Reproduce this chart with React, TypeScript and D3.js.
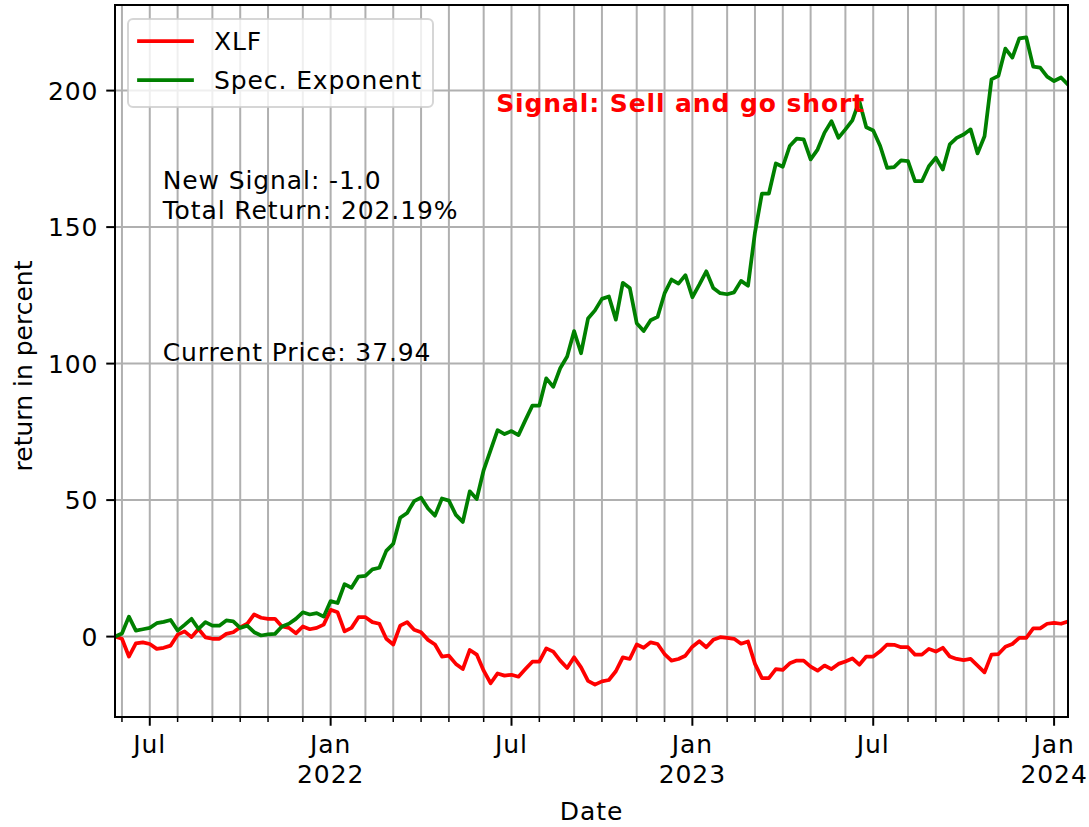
import React, { useEffect, useRef } from "react";
import * as d3 from "d3";

// weekly closes (weeks ending Monday), cumulative return in percent
const xlf = [
  0, -0.8, -7.3, -2.5, -2.1, -2.7, -4.5, -4.1, -3.3, 0.7,
  1.9, -0.2, 2.8, -0.3, -0.8, -0.8, 1.0, 1.6, 3.4, 4.7,
  8.1, 6.9, 6.5, 6.5, 3.7, 3.2, 1.2, 3.7, 2.7, 3.2,
  4.4, 9.8, 8.9, 1.9, 3.2, 7.1, 7.1, 5.3, 4.7, -0.8,
  -2.9, 4.0, 5.3, 2.5, 1.6, -1.2, -2.9, -7.3, -7.0, -10.0,
  -11.9, -4.9, -6.6, -12.5, -17.1, -13.5, -14.3, -14.0, -14.7, -11.9,
  -9.2, -9.2, -4.3, -5.5, -8.8, -11.5, -7.6, -11.3, -16.2, -17.6,
  -16.4, -15.9, -12.7, -7.6, -8.2, -2.9, -4.1, -2.1, -2.7, -6.4,
  -8.8, -8.2, -7.0, -3.7, -1.7, -3.9, -1.2, -0.2, -0.5, -0.8,
  -2.6, -1.8, -10.0, -15.2, -15.2, -11.9, -12.2, -9.8, -8.8, -8.8,
  -11.0, -12.5, -10.6, -11.9, -10.0, -9.1, -8.0, -10.3, -7.3, -7.3,
  -5.4, -2.9, -3.0, -3.9, -3.9, -6.6, -6.6, -4.5, -5.5, -4.1,
  -7.3, -8.2, -8.6, -8.2, -10.6, -13.1, -6.6, -6.4, -3.7, -2.7,
  -0.5, -0.5, 3.0, 3.0, 4.7, 5.0, 4.7, 5.5,
];

const specExponent = [
  0, 1.1, 7.3, 2.2, 2.7, 3.2, 4.9, 5.4, 6.1, 2.2,
  4.3, 6.5, 2.8, 5.3, 4.0, 4.0, 5.9, 5.6, 3.2, 4.0,
  1.6, 0.4, 0.8, 1.0, 3.7, 4.7, 6.5, 8.9, 8.1, 8.6,
  7.3, 13.0, 12.3, 19.2, 17.9, 22.0, 22.2, 24.6, 25.2, 31.4,
  34.0, 43.5, 45.3, 49.6, 50.9, 46.9, 44.3, 50.6, 49.8, 44.6,
  42.0, 53.2, 50.4, 61.0, 68.3, 75.6, 74.2, 75.3, 73.8, 79.3,
  84.6, 84.6, 94.6, 91.5, 98.3, 102.6, 111.9, 103.8, 116.5, 119.5,
  123.7, 124.6, 116.1, 129.6, 127.7, 114.8, 111.9, 115.9, 117.1, 125.7,
  130.8, 129.3, 132.4, 124.3, 128.9, 133.8, 127.7, 125.8, 125.4, 126.1,
  130.3, 128.5, 148.0, 162.3, 162.3, 173.3, 172.1, 179.7, 182.4, 182.1,
  174.8, 178.4, 184.6, 188.8, 182.7, 185.8, 189.1, 196.2, 186.6, 185.4,
  179.7, 171.7, 172.0, 174.4, 174.2, 166.8, 166.8, 172.3, 175.4, 171.1,
  180.3, 182.7, 183.9, 185.8, 177.0, 183.3, 204.1, 205.4, 215.4, 212.1,
  219.1, 219.5, 208.8, 208.4, 205.1, 203.5, 204.8, 202.19,
];

const seriesNames = ["XLF", "Spec. Exponent"];
const seriesColors = ["#ff0000", "#008000"];
const yTicks = [0, 50, 100, 150, 200];
const firstWeek = new Date(2021, 4, 31);
const signalText = "Signal: Sell and go short";
const infoLines = ["New Signal: -1.0", "Total Return: 202.19%"];
const priceText = "Current Price: 37.94";

const App = () => {
  const svgRef = useRef<SVGSVGElement | null>(null);

  useEffect(() => {
    const width = 1089;
    const height = 827;
    const m = { left: 115, right: 1068, top: 5, bottom: 717 };
    const font = "DejaVu Sans, Verdana, sans-serif";
    const fs = 25;
    const ls = "0.9px"; // hinted text in the original runs a bit wider

    const svg = d3.select(svgRef.current);
    svg.selectAll("*").remove();
    svg.attr("width", width).attr("height", height).style("font-family", font);

    const n = xlf.length;
    const x = d3.scaleLinear().domain([0, n - 1]).range([m.left, m.right]);

    // matplotlib style 5% margins on y
    const all = [...xlf, ...specExponent];
    const lo = d3.min(all) as number;
    const hi = d3.max(all) as number;
    const pad = (hi - lo) * 0.05;
    const y = d3.scaleLinear().domain([lo - pad, hi + pad]).range([m.bottom, m.top]);

    // axes fraction scales for the text boxes
    const ax = d3.scaleLinear().domain([0, 1]).range([m.left, m.right]);
    const ay = d3.scaleLinear().domain([0, 1]).range([m.bottom, m.top]);

    // month ticks snap to the weekly period containing the 1st
    const lastWeek = d3.timeDay.offset(firstWeek, (n - 1) * 7);
    const months = d3.timeMonth
      .range(firstWeek, d3.timeDay.offset(lastWeek, 1))
      .map((d) => {
        const wk = d3.timeMonday.ceil(d);
        return { date: d, idx: d3.timeMonday.count(firstWeek, wk) };
      })
      .filter((d) => d.idx >= 0 && d.idx <= n - 1);

    // grid
    const grid = svg.append("g").attr("stroke", "#b0b0b0").attr("stroke-width", 2);
    grid.selectAll("line.v")
      .data(months)
      .join("line")
      .attr("class", "v")
      .attr("x1", (d) => x(d.idx))
      .attr("x2", (d) => x(d.idx))
      .attr("y1", m.top)
      .attr("y2", m.bottom);
    grid.selectAll("line.h")
      .data(yTicks)
      .join("line")
      .attr("class", "h")
      .attr("x1", m.left)
      .attr("x2", m.right)
      .attr("y1", (d) => y(d))
      .attr("y2", (d) => y(d));

    // lines
    const line = d3.line<number>().x((_, i) => x(i)).y((d) => y(d));
    const clip = svg.append("clipPath").attr("id", "plot-clip");
    clip.append("rect")
      .attr("x", m.left)
      .attr("y", m.top)
      .attr("width", m.right - m.left)
      .attr("height", m.bottom - m.top);
    [xlf, specExponent].forEach((s, k) => {
      svg.append("path")
        .datum(s)
        .attr("clip-path", "url(#plot-clip)")
        .attr("fill", "none")
        .attr("stroke", seriesColors[k])
        .attr("stroke-width", 3.75)
        .attr("stroke-linejoin", "round")
        .attr("stroke-linecap", "square")
        .attr("d", line);
    });

    // spines
    svg.append("rect")
      .attr("x", m.left)
      .attr("y", m.top)
      .attr("width", m.right - m.left)
      .attr("height", m.bottom - m.top)
      .attr("fill", "none")
      .attr("stroke", "#000")
      .attr("stroke-width", 2);

    // y ticks
    const yAxis = svg.append("g");
    yTicks.forEach((t) => {
      yAxis.append("line")
        .attr("x1", m.left - 8.75)
        .attr("x2", m.left)
        .attr("y1", y(t))
        .attr("y2", y(t))
        .attr("stroke", "#000")
        .attr("stroke-width", 2);
      yAxis.append("text")
        .attr("x", m.left - 16.6)
        .attr("y", y(t) + 9)
        .attr("text-anchor", "end")
        .attr("font-size", fs)
        .attr("letter-spacing", ls)
        .text(t);
    });

    // x ticks
    const xAxis = svg.append("g");
    months.forEach((d) => {
      const mo = d.date.getMonth();
      const major = mo === 0 || mo === 6;
      xAxis.append("line")
        .attr("x1", x(d.idx))
        .attr("x2", x(d.idx))
        .attr("y1", m.bottom)
        .attr("y2", m.bottom + (major ? 8.75 : 5))
        .attr("stroke", "#000")
        .attr("stroke-width", major ? 2 : 1.5);
      if (major) {
        const t = xAxis.append("text")
          .attr("text-anchor", "middle")
          .attr("font-size", fs)
          .attr("letter-spacing", ls)
          .attr("x", x(d.idx))
          .attr("y", 753);
        t.append("tspan").attr("x", x(d.idx)).text(mo === 0 ? "Jan" : "Jul");
        if (mo === 0) {
          t.append("tspan").attr("x", x(d.idx)).attr("dy", 30).text(d.date.getFullYear());
        }
      }
    });

    // axis labels
    svg.append("text")
      .attr("x", (m.left + m.right) / 2)
      .attr("y", 820)
      .attr("text-anchor", "middle")
      .attr("font-size", fs)
      .attr("letter-spacing", ls)
      .text("Date");
    svg.append("text")
      .attr("transform", `translate(32,${(m.top + m.bottom) / 2 + 5}) rotate(-90)`)
      .attr("text-anchor", "middle")
      .attr("font-size", fs)
      .text("return in percent");

    // text boxes
    const info = svg.append("text")
      .attr("font-size", fs)
      .attr("letter-spacing", ls)
      .attr("fill", "#000");
    infoLines.forEach((l, i) => {
      info.append("tspan")
        .attr("x", ax(0.05))
        .attr("y", ay(0.7) - (infoLines.length - 1 - i) * 30)
        .text(l);
    });
    svg.append("text")
      .attr("x", ax(0.05))
      .attr("y", ay(0.5))
      .attr("font-size", fs)
      .attr("letter-spacing", ls)
      .text(priceText);
    svg.append("text")
      .attr("x", ax(0.4))
      .attr("y", ay(0.85))
      .attr("font-size", fs)
      .attr("letter-spacing", ls)
      .attr("font-weight", "bold")
      .attr("fill", "#ff0000")
      .text(signalText);

    // legend
    const lg = svg.append("g");
    lg.append("rect")
      .attr("x", 128)
      .attr("y", 19)
      .attr("width", 305)
      .attr("height", 88)
      .attr("rx", 5)
      .attr("fill", "#fff")
      .attr("fill-opacity", 0.8)
      .attr("stroke", "#cccccc")
      .attr("stroke-opacity", 0.8)
      .attr("stroke-width", 2);
    seriesNames.forEach((name, i) => {
      const cy = 41 + i * 39;
      lg.append("line")
        .attr("x1", 139)
        .attr("x2", 192)
        .attr("y1", cy)
        .attr("y2", cy)
        .attr("stroke", seriesColors[i])
        .attr("stroke-width", 3.75)
        .attr("stroke-linecap", "square");
      lg.append("text")
        .attr("x", 214)
        .attr("y", cy + 9)
        .attr("font-size", fs)
        .attr("letter-spacing", ls)
        .text(name);
    });
  }, []);

  return (
    <svg
      ref={svgRef}
      style={{ position: "absolute", left: 0, top: 0, background: "#fff" }}
    />
  );
};

export default App;
